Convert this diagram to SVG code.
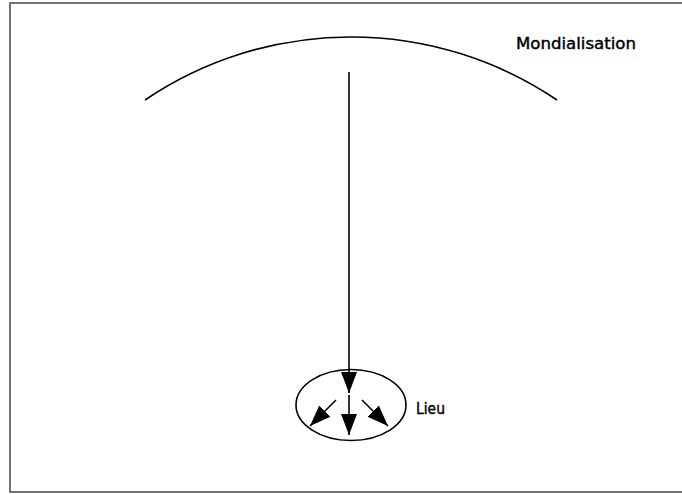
<svg xmlns="http://www.w3.org/2000/svg" width="682" height="494" viewBox="0 0 682 494">
<style>
.ln{fill:none;stroke:#000;stroke-width:1.6}
.lbl{font-family:"DejaVu Sans","Liberation Sans",sans-serif;font-size:15px;fill:#000;stroke:#000;stroke-width:0.4}
</style>
<defs>
<marker id="ah" markerUnits="userSpaceOnUse" markerWidth="22" markerHeight="18" refX="21" refY="8" orient="auto">
<path d="M0,0 L21,8 L0,16 Z" fill="#000"/>
</marker>
</defs>
<rect x="0" y="0" width="682" height="494" fill="#fff"/>
<rect x="10" y="3" width="680" height="489" fill="none" stroke="#444" stroke-width="1.5"/>
<g id="mondialisation">
<path class="ln" d="M145,100 A368,368 0 0 1 557,100"/>
<text class="lbl" x="516" y="49" textLength="120" lengthAdjust="spacingAndGlyphs">Mondialisation</text>
</g>
<g id="lieu">
<ellipse class="ln" cx="351" cy="405" rx="55" ry="35.5"/>
<text class="lbl" x="416" y="414" textLength="29" lengthAdjust="spacingAndGlyphs">Lieu</text>
</g>
<g id="connectors">
<line class="ln" x1="349" y1="72" x2="349" y2="393" marker-end="url(#ah)"/>
<line class="ln" x1="349" y1="395" x2="349" y2="435" marker-end="url(#ah)"/>
<line class="ln" x1="336" y1="400" x2="310" y2="426" marker-end="url(#ah)"/>
<line class="ln" x1="362" y1="400" x2="388" y2="426" marker-end="url(#ah)"/>
</g>
</svg>
